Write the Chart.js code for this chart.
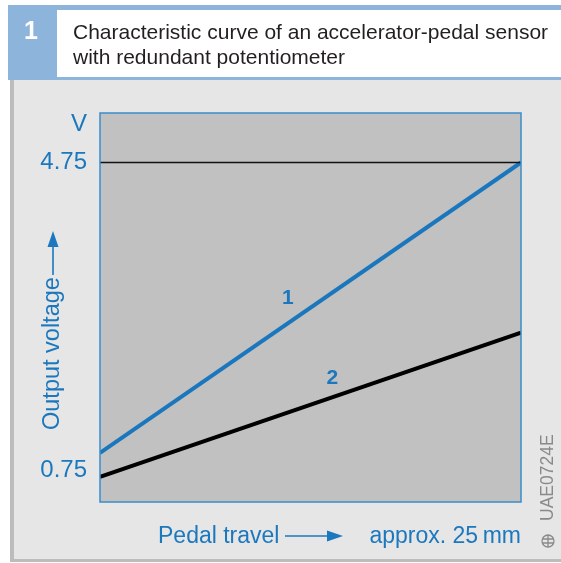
<!DOCTYPE html>
<html>
<head>
<meta charset="utf-8">
<script src="https://cdn.jsdelivr.net/npm/chart.js@4"></script>
<style>
  body { margin: 0; background: #fff; }
  canvas { display: block; }
</style>
</head>
<body>
<canvas id="grafico" width="561" height="563"></canvas>
<script>
// dados
const pedalTravel = [0, 25];          // mm
const curve1 = [0.975, 4.75];         // V
const curve2 = [0.663, 2.538];        // V
const limitLine = [4.75, 4.75];       // V
const yTicks = [0.75, 4.75];
const curveLabels = ["1", "2"];

const AZUL = "#1b78be";
const FONTE = "'Liberation Sans', Arial, sans-serif";

function pontos(ys) {
    return pedalTravel.map((x, i) => ({ x: x, y: ys[i] }));
}

function seta(ctx, x1, y1, x2, y2) {
    const ang = Math.atan2(y2 - y1, x2 - x1);
    const L = 16, W = 5.5;
    ctx.beginPath();
    ctx.moveTo(x1, y1);
    ctx.lineTo(x2 - L * Math.cos(ang), y2 - L * Math.sin(ang));
    ctx.stroke();
    ctx.save();
    ctx.translate(x2, y2);
    ctx.rotate(ang);
    ctx.beginPath();
    ctx.moveTo(0, 0);
    ctx.lineTo(-L, -W);
    ctx.lineTo(-L, W);
    ctx.closePath();
    ctx.fill();
    ctx.restore();
}

// fundo, moldura e textos da figura
const moldura = {
    id: "moldura",
    beforeDraw(chart) {
        const ctx = chart.ctx;
        const a = chart.chartArea;
        ctx.save();
        ctx.fillStyle = "#ffffff";
        ctx.fillRect(0, 0, 561, 563);
        // cabeçalho
        ctx.fillStyle = "#8db4da";
        ctx.fillRect(8, 5, 553, 75);
        ctx.fillStyle = "#ffffff";
        ctx.fillRect(57, 10, 504, 67);
        // painel
        ctx.fillStyle = "#e6e6e6";
        ctx.fillRect(10, 80, 551, 480);
        ctx.fillStyle = "#bcbcbc";
        ctx.fillRect(10, 80, 4, 482);
        ctx.fillRect(10, 559, 551, 3);
        // área do gráfico
        ctx.fillStyle = "#c1c1c1";
        ctx.fillRect(a.left, a.top, a.right - a.left, a.bottom - a.top);
        ctx.restore();
    },
    afterDraw(chart) {
        const ctx = chart.ctx;
        const a = chart.chartArea;
        const sx = chart.scales.x, sy = chart.scales.y;
        ctx.save();
        ctx.strokeStyle = "#3a8dca";
        ctx.lineWidth = 1.5;
        ctx.strokeRect(a.left, a.top, a.right - a.left, a.bottom - a.top);

        // título
        ctx.fillStyle = "#ffffff";
        ctx.font = "bold 25px " + FONTE;
        ctx.textAlign = "center";
        ctx.textBaseline = "middle";
        ctx.fillText("1", 31, 32);
        ctx.fillStyle = "#231f20";
        ctx.font = "21px " + FONTE;
        ctx.textAlign = "left";
        ctx.textBaseline = "alphabetic";
        ctx.fillText("Characteristic curve of an accelerator-pedal sensor", 73, 39);
        ctx.fillText("with redundant potentiometer", 73, 64);

        // unidade e títulos dos eixos
        ctx.fillStyle = AZUL;
        ctx.strokeStyle = AZUL;
        ctx.lineWidth = 1.6;
        ctx.font = "24px " + FONTE;
        ctx.textAlign = "right";
        ctx.textBaseline = "middle";
        ctx.fillText("V", 87, 124);

        ctx.font = "23.5px " + FONTE;
        ctx.save();
        ctx.translate(53, 430);
        ctx.rotate(-Math.PI / 2);
        ctx.textAlign = "left";
        ctx.fillText("Output voltage", 0, 0);
        ctx.restore();
        seta(ctx, 53, 275, 53, 231);

        ctx.font = "23px " + FONTE;
        ctx.textAlign = "left";
        ctx.fillText("Pedal travel", 158, 537);
        seta(ctx, 285, 536, 343, 536);
        ctx.textAlign = "right";
        ctx.fillText("approx. 25\u2009mm", 521, 537);

        // rótulos das curvas
        ctx.font = "bold 21px " + FONTE;
        ctx.textAlign = "center";
        const lx = [11.15, 13.8];
        const ly = [2.99, 1.95];
        curveLabels.forEach((t, i) => {
            ctx.fillText(t, sx.getPixelForValue(lx[i]), sy.getPixelForValue(ly[i]));
        });

        // código da figura
        ctx.fillStyle = "#8a8a8a";
        ctx.strokeStyle = "#8a8a8a";
        ctx.font = "17.5px " + FONTE;
        ctx.save();
        ctx.translate(548, 521);
        ctx.rotate(-Math.PI / 2);
        ctx.textAlign = "left";
        ctx.fillText("UAE0724E", 0, 0);
        ctx.restore();
        ctx.lineWidth = 1.3;
        ctx.beginPath();
        ctx.arc(548, 541, 6, 0, Math.PI * 2);
        ctx.moveTo(542, 539); ctx.lineTo(554, 539);
        ctx.moveTo(542, 543); ctx.lineTo(554, 543);
        ctx.moveTo(548, 535); ctx.lineTo(548, 547);
        ctx.stroke();
        ctx.restore();
    }
};

new Chart(document.getElementById("grafico"), {
    type: "line",
    data: {
        datasets: [
            { data: pontos(limitLine), borderColor: "#111111", borderWidth: 1.5, pointRadius: 0 },
            { data: pontos(curve1), borderColor: "#1a77bd", borderWidth: 4, pointRadius: 0 },
            { data: pontos(curve2), borderColor: "#000000", borderWidth: 4, pointRadius: 0 }
        ]
    },
    options: {
        responsive: false,
        animation: false,
        layout: { padding: { left: 0, top: 113, right: 40, bottom: 61 } },
        plugins: { legend: { display: false }, tooltip: { enabled: false } },
        scales: {
            x: { type: "linear", min: 0, max: 25, display: false },
            y: {
                type: "linear", min: 0.337, max: 5.393,
                afterBuildTicks: s => { s.ticks = yTicks.map(v => ({ value: v })); },
                afterFit: s => { s.width = 100; },
                grid: { display: false, drawTicks: false },
                border: { display: false },
                ticks: {
                    padding: 13,
                    color: AZUL,
                    font: { family: FONTE, size: 24 },
                    callback: v => v.toFixed(2)
                }
            }
        }
    },
    plugins: [moldura]
});
</script>
</body>
</html>
